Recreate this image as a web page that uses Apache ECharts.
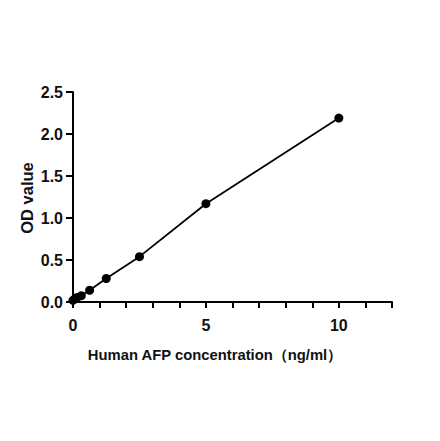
<!DOCTYPE html>
<html><head><meta charset="utf-8">
<script src="https://cdn.jsdelivr.net/npm/echarts@6/dist/echarts.min.js"></script>
<style>html,body{margin:0;padding:0;background:#fff}#c{width:440px;height:441px}</style>
</head><body><div id="c"></div>
<script>
var concentrations = [0, 0.078, 0.156, 0.3125, 0.625, 1.25, 2.5, 5, 10];
var odValues = [0.02, 0.04, 0.055, 0.075, 0.14, 0.28, 0.54, 1.17, 2.19];
var xLabels = [0, 5, 10];
var xTitle = 'Human AFP concentration（ng/ml）';
var yTitle = 'OD value';

var pts = concentrations.map(function(c, i){ return [c, odValues[i]]; });
var font = 'Liberation Sans, Arial, sans-serif';
var chart = echarts.init(document.getElementById('c'), null, {renderer:'svg'});
chart.setOption({
  animation:false,
  backgroundColor:'#fff',
  grid:{left:73, right:48, top:92, bottom:139, containLabel:false},
  graphic:[
    {type:'text', x:215, y:355, silent:true,
     style:{text:xTitle, fontFamily:font, fontWeight:'bold', fontSize:14.8, fill:'#111',
            textAlign:'center', textVerticalAlign:'middle'}},
    {type:'text', x:27, y:198, rotation:Math.PI/2, silent:true,
     style:{text:yTitle, fontFamily:font, fontWeight:'bold', fontSize:16.5, fill:'#111',
            textAlign:'center', textVerticalAlign:'middle'}}
  ],
  xAxis:{
    type:'value', min:0, max:12, interval:1,
    axisLine:{show:true, onZero:false, lineStyle:{color:'#000', width:2}},
    axisTick:{show:true, length:6, lineStyle:{color:'#000', width:2}},
    axisLabel:{fontFamily:font, fontWeight:'bold', fontSize:16, color:'#111', margin:15,
      formatter:function(v){ return xLabels.indexOf(v) >= 0 ? String(v) : ''; }},
    splitLine:{show:false}
  },
  yAxis:{
    type:'value', min:0, max:2.5, interval:0.5,
    axisLine:{show:true, onZero:false, lineStyle:{color:'#000', width:2}},
    axisTick:{show:true, length:7, lineStyle:{color:'#000', width:2}},
    axisLabel:{fontFamily:font, fontWeight:'bold', fontSize:16, color:'#111', margin:10,
      formatter:function(v){ return v.toFixed(1); }},
    splitLine:{show:false}
  },
  series:[{
    type:'line', data:pts, smooth:false,
    symbol:'circle', symbolSize:9, showAllSymbol:true,
    itemStyle:{color:'#000'},
    lineStyle:{color:'#000', width:1.8}
  }]
});
</script></body></html>
